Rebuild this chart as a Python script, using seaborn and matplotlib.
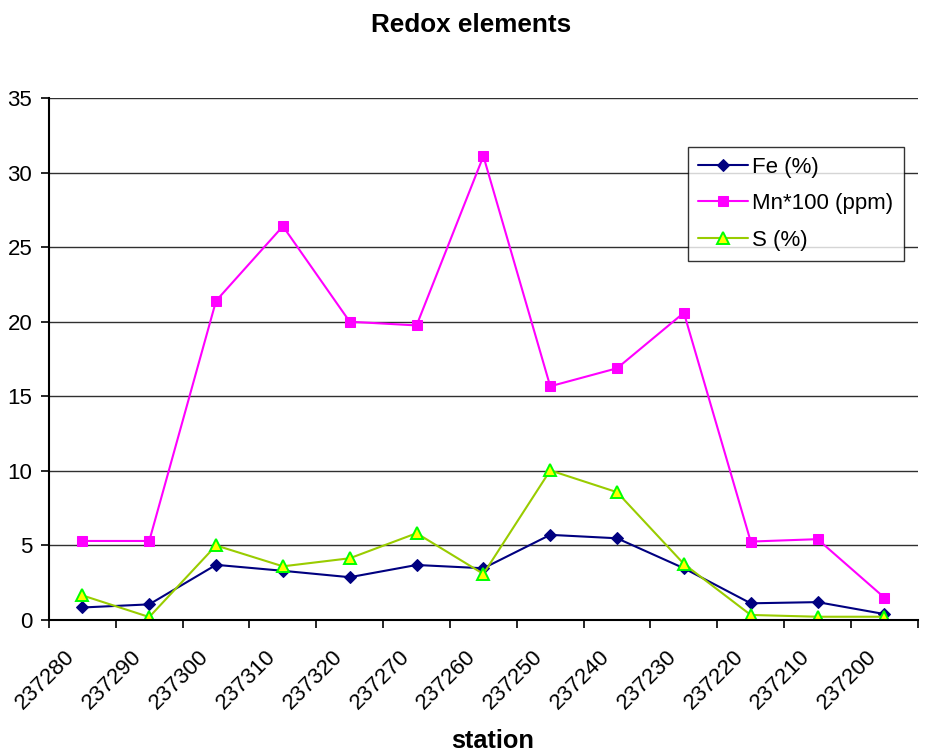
import numpy as np
import pandas as pd
import matplotlib
matplotlib.use("Agg")
import matplotlib.pyplot as plt
from matplotlib.ticker import FixedLocator
from matplotlib.transforms import ScaledTranslation
import seaborn as sns

# Station order along the transect
stations = ["237280", "237290", "237300", "237310", "237320", "237270", "237260",
            "237250", "237240", "237230", "237220", "237210", "237200"]

fe = [0.84, 1.05, 3.7, 3.3, 2.87, 3.69, 3.47, 5.71, 5.48, 3.47, 1.12, 1.2, 0.4]
mn100 = [5.3, 5.3, 21.4, 26.4, 20.0, 19.75, 31.1, 15.67, 16.88, 20.6, 5.26, 5.42, 1.5]
s = [1.65, 0.2, 5.0, 3.6, 4.14, 5.82, 3.09, 10.03, 8.57, 3.76, 0.34, 0.22, 0.22]

yticks = [0, 5, 10, 15, 20, 25, 30, 35]

sns.set_theme(style="white")
plt.rcParams["font.family"] = ["Liberation Sans", "DejaVu Sans"]
plt.rcParams["text.color"] = "black"
plt.rcParams["xtick.color"] = "black"
plt.rcParams["ytick.color"] = "black"

pos = np.arange(len(stations))
df = pd.DataFrame({"pos": pos, "station": stations, "Fe": fe, "Mn": mn100, "S": s})

fig = plt.figure(figsize=(9.28, 7.53), dpi=100)
ax = fig.add_axes([0.0528, 0.1766, 0.9362, 0.6933])

ax.set_axisbelow(True)
ax.yaxis.grid(True, color="#303030", linewidth=1.0)
ax.xaxis.grid(False)

sns.lineplot(data=df, x="pos", y="Fe", ax=ax, color="#000080", linewidth=1.5,
             marker="D", markersize=6, markerfacecolor="#000080",
             markeredgecolor="#000080", label="Fe (%)")
sns.lineplot(data=df, x="pos", y="Mn", ax=ax, color="#FF00FF", linewidth=1.5,
             marker="s", markersize=7.5, markerfacecolor="#FF00FF",
             markeredgecolor="#FF00FF", label="Mn*100 (ppm)")
sns.lineplot(data=df, x="pos", y="S", ax=ax, color="#99CC00", linewidth=1.5,
             marker="^", markersize=8, markerfacecolor="#FFFF00",
             markeredgecolor="#00FF00", markeredgewidth=1.4, label="S (%)")

ax.set_xlim(-0.5, len(stations) - 0.5)
ax.set_ylim(0, 35)
ax.set_yticks(yticks)
ax.set_yticklabels([str(v) for v in yticks], fontsize=16)

ax.set_xticks(pos)
ax.xaxis.set_minor_locator(FixedLocator(np.arange(-0.5, len(stations), 1.0)))
ax.tick_params(axis="x", which="major", length=0, pad=0)
ax.tick_params(axis="x", which="minor", length=6, width=1.2, color="black",
               direction="out", bottom=True)
ax.tick_params(axis="y", length=6, width=1.2, color="black", direction="out",
               left=True, pad=6)

# Rotated station labels hang below the axis, ending just left of each point
ax.set_xticklabels(stations, rotation=45, ha="right", va="center",
                   rotation_mode="anchor", fontsize=16)
shift = ScaledTranslation(-10.5 / 100, -33.5 / 100, fig.dpi_scale_trans)
for lab in ax.get_xticklabels():
    lab.set_transform(lab.get_transform() + shift)

for side in ["top", "right"]:
    ax.spines[side].set_visible(False)
for side in ["left", "bottom"]:
    ax.spines[side].set_color("black")
    ax.spines[side].set_linewidth(1.5)

ax.set_xlabel("")
ax.set_ylabel("")

leg = ax.legend(loc="upper left", bbox_to_anchor=(0.7355, 0.907), borderaxespad=0,
                fontsize=16, frameon=True, fancybox=False, handlelength=2.25,
                labelspacing=0.7, borderpad=0.45, handletextpad=0.2)
leg.get_frame().set_edgecolor("black")
leg.get_frame().set_linewidth(1.0)

fig.text(0.508, 1 - 25 / 753, "Redox elements", ha="center", va="center",
         fontsize=18.8, fontweight="bold")
fig.text(0.531, 1 - 741 / 753, "station", ha="center", va="center",
         fontsize=18.3, fontweight="bold")

fig.savefig("out.png", dpi=100)
